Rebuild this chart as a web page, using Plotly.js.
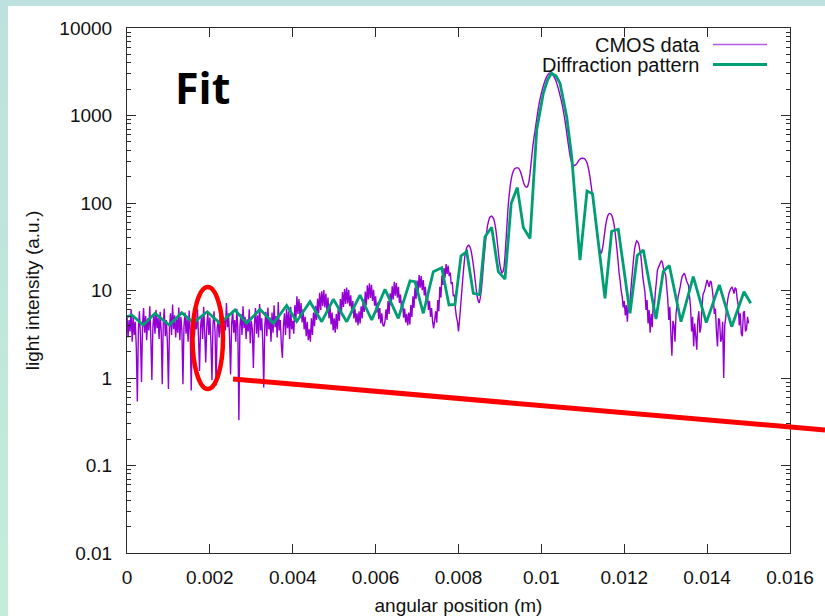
<!DOCTYPE html>
<html>
<head>
<meta charset="utf-8">
<script src="https://cdn.plot.ly/plotly-3.0.1.min.js"></script>
<style>
html, body { margin:0; padding:0; width:825px; height:616px; overflow:hidden;
  background: linear-gradient(180deg, #bde1de 0%, #c3edd8 100%); }
#sheet { position:absolute; left:8px; top:6px; width:817px; height:610px; background:#ffffff; }
#chart { position:absolute; left:0; top:0; width:825px; height:616px; }
</style>
</head>
<body>
<div id="sheet"></div>
<div id="chart"></div>
<script>
// ---- CMOS data: evenly spaced samples starting at x = 0 m, step 0.000025 m ----
const cmosStart = 0;
const cmosStep = 0.000025;
const cmosIntensity = [
  /*   0 */ 5.2, 2.9, 4.6, 3.4, 6.1, 2.6, 5.0, 3.1, 4.4, 2.2,
  /*  10 */ 0.54, 3.6, 5.8, 3.0, 0.9, 4.1, 6.3, 3.3, 5.1, 2.7,
  /*  20 */ 4.8, 3.5, 6.6, 2.9, 0.95, 3.9, 5.4, 3.2, 6.0, 3.7,
  /*  30 */ 4.9, 2.8, 5.7, 3.4, 0.85, 4.2, 6.2, 3.0, 4.6, 2.5,
  /*  40 */ 0.75, 3.8, 5.5, 3.1, 6.9, 3.6, 5.2, 2.9, 4.7, 3.3,
  /*  50 */ 6.4, 2.7, 5.0, 3.5, 0.85, 3.9, 5.6, 3.2, 4.8, 2.6,
  /*  60 */ 5.9, 3.4, 0.72, 3.7, 5.3, 2.9, 4.5, 3.6, 6.2, 3.0,
  /*  70 */ 1.2, 3.8, 5.1, 2.8, 6.5, 3.4, 1.5, 3.9, 5.6, 3.1,
  /*  80 */ 4.9, 2.6, 0.95, 4.0, 5.8, 3.3, 0.82, 3.7, 4.4, 2.9,
  /*  90 */ 6.0, 3.2, 5.3, 2.7, 4.8, 3.5, 7.2, 3.8, 5.5, 2.9,
  /* 100 */ 1.1, 4.1, 5.9, 3.3, 4.6, 2.6, 6.2, 3.6, 0.33, 3.9,
  /* 110 */ 5.4, 3.1, 6.6, 3.7, 5.0, 2.8, 4.7, 3.4, 6.1, 2.5,
  /* 120 */ 4.5, 3.6, 1.3, 4.0, 6.3, 3.2, 5.2, 2.9, 7.0, 3.5,
  /* 130 */ 4.8, 2.7, 0.78, 3.9, 5.7, 3.0, 6.4, 3.6, 4.9, 2.6,
  /* 140 */ 5.6, 3.3, 6.8, 3.8, 5.1, 2.9, 7.4, 3.5, 4.6, 2.4,
  /* 150 */ 1.7, 3.9, 5.5, 3.1, 6.2, 3.7, 5.8, 2.8, 6.5, 3.6,
  /* 160 */ 4.5, 3.2, 6.8, 4.6, 8.6, 5.4, 8.0, 5.0, 7.2, 4.3,
  /* 170 */ 6.1, 3.6, 5.0, 3.0, 4.4, 2.7, 3.6, 2.6, 4.8, 3.1,
  /* 180 */ 5.6, 3.9, 6.7, 4.6, 8.1, 5.5, 9.4, 6.0, 9.8, 6.6,
  /* 190 */ 10.1, 6.4, 9.2, 5.8, 8.3, 4.8, 6.6, 4.1, 5.6, 3.5,
  /* 200 */ 4.8, 3.3, 5.4, 3.6, 6.5, 4.5, 8.0, 5.6, 9.6, 6.5,
  /* 210 */ 10.4, 7.0, 10.8, 7.1, 10.2, 6.6, 8.8, 5.6, 7.6, 4.8,
  /* 220 */ 6.2, 4.3, 5.5, 4.0, 5.8, 4.2, 6.6, 4.8, 8.0, 5.7,
  /* 230 */ 9.7, 6.8, 11.5, 7.9, 12.1, 8.2, 11.6, 7.6, 10.2, 6.7,
  /* 240 */ 8.6, 5.6, 7.3, 4.7, 6.3, 4.2, 5.5, 4.0, 3.9, 4.4,
  /* 250 */ 6.1, 4.6, 7.6, 5.4, 9.3, 6.8, 11.2, 7.9, 12.6, 8.7,
  /* 260 */ 12.2, 8.3, 11.0, 7.2, 9.0, 6.0, 7.6, 4.9, 6.2, 4.3,
  /* 270 */ 5.4, 4.0, 5.6, 4.1, 6.8, 5.0, 8.6, 6.3, 10.8, 8.0,
  /* 280 */ 13.0, 9.6, 15.0, 10.8, 14.6, 10.1, 13.2, 8.8, 11.0, 7.3,
  /* 290 */ 9.0, 6.0, 7.6, 5.0, 6.3, 4.4, 3.7, 4.6, 5.8, 4.3,
  /* 300 */ 7.8, 5.8, 11.0, 8.3, 14.8, 11.6, 18.0, 14.0, 20.0, 15.5,
  /* 310 */ 19.2, 14.6, 16.0, 11.8, 12.5, 8.6, 9.0, 6.2, 5.0, 4.4,
  /* 320 */ 3.4, 4.6, 6.5, 9.2, 13, 18, 24, 28, 31, 32.5,
  /* 330 */ 33, 31.5, 29, 25, 21, 17, 13.5, 10.5, 8.6, 7.6,
  /* 340 */ 7.2, 8.2, 10, 13.5, 19, 26, 35, 45, 55, 62,
  /* 350 */ 68, 70, 71, 69, 66, 59, 50, 40, 31, 24,
  /* 360 */ 19.5, 17, 15.8, 16.5, 18.5, 26, 40, 62, 95, 126,
  /* 370 */ 160, 190, 215, 232, 245, 250, 252, 252, 250, 240,
  /* 380 */ 225, 205, 185, 168, 158, 153, 152, 158, 175, 215,
  /* 390 */ 280, 365, 470, 570, 680, 830, 1000, 1200, 1400, 1600,
  /* 400 */ 1800, 2000, 2200, 2400, 2600, 2760, 2900, 3000, 3060, 3050,
  /* 410 */ 3000, 2920, 2800, 2660, 2500, 2300, 2100, 1900, 1700, 1520,
  /* 420 */ 1350, 1170, 1000, 840, 700, 570, 470, 390, 330, 295,
  /* 430 */ 275, 268, 268, 272, 280, 292, 305, 315, 322, 325,
  /* 440 */ 326, 324, 318, 306, 290, 262, 230, 195, 160, 130,
  /* 450 */ 105, 85, 68, 54, 42, 35, 30, 27.5, 27, 30,
  /* 460 */ 36, 45, 55, 64, 71, 75, 76, 75, 72, 66,
  /* 470 */ 58, 48, 38, 29, 22, 16, 13, 10, 8.5, 6.4,
  /* 480 */ 7.6, 5.2, 6.8, 4.4, 7.2, 5.6, 9.0, 12.5, 17, 23,
  /* 490 */ 30, 34, 37, 36, 34, 29, 25, 19, 14, 11.5,
  /* 500 */ 9.5, 6.0, 7.8, 4.2, 6.0, 3.3, 5.4, 3.8, 7.5, 6.2,
  /* 510 */ 9.5, 12.5, 17, 18.5, 19.5, 21, 22, 20.5, 17.5, 16.2,
  /* 520 */ 15, 11, 8.0, 4.6, 6.5, 3.2, 1.8, 4.5, 4.0, 2.6,
  /* 530 */ 5.5, 6.8, 8.5, 9.6, 11, 13, 14.5, 15.2, 15.8, 14.6,
  /* 540 */ 13, 12.2, 11.5, 8.6, 6.5, 3.4, 5.0, 2.3, 4.2, 3.0,
  /* 550 */ 2.1, 4.6, 5.8, 3.3, 3.8, 6.4, 9.0, 9.6, 10.5, 11.8,
  /* 560 */ 13.2, 12.0, 11, 12.8, 12.5, 10.2, 8.0, 5.4, 6.2, 3.4,
  /* 570 */ 2.3, 4.8, 4.6, 2.6, 2.8, 4.4, 1.0, 4.0, 5.0, 6.6,
  /* 580 */ 8.0, 9.2, 10, 10.6, 11, 10.2, 9.2, 10.8, 10.4, 8.0,
  /* 590 */ 6.8, 4.0, 5.5, 3.2, 3.0, 5.6, 5.8, 3.4, 3.6, 5.0,
  /* 600 */ 4.2
];

// ---- Diffraction pattern (fit) vertices ----
const diffPosition = [
  0, 0.00012, 0.00039, 0.000676, 0.001021, 0.00132, 0.0016, 0.001938, 0.002244, 0.002606,
  0.002889, 0.00321, 0.003531, 0.003854, 0.004095, 0.004416, 0.004699, 0.004979, 0.005302, 0.005623,
  0.005905, 0.006226, 0.006547, 0.00683, 0.00695, 0.00715, 0.007392, 0.007595, 0.007771, 0.007916,
  0.00806, 0.008198, 0.008357, 0.008507, 0.00864, 0.008801, 0.008961, 0.009122, 0.009272, 0.009419,
  0.009564, 0.009726, 0.009887, 0.010047, 0.010148, 0.010244, 0.010354, 0.01045, 0.010611, 0.010732,
  0.010932, 0.011101, 0.011234, 0.011535, 0.011697, 0.011856, 0.012139, 0.012315, 0.01246, 0.012766,
  0.012942, 0.013087, 0.01337, 0.013666, 0.01398, 0.014294, 0.014593, 0.01489, 0.015052
];
const diffIntensity = [
  5.02, 5.25, 4.03, 5.49, 4.03, 5.58, 4.29, 5.72, 4.22, 5.99,
  4.22, 6.10, 4.22, 6.74, 4.42, 7.45, 4.40, 7.93, 4.40, 8.88,
  4.60, 10.3, 4.81, 12.9, 12.6, 5.49, 16.4, 18.2, 6.83, 6.92,
  24.8, 27.8, 9.29, 9.00, 41.2, 52.8, 16.4, 13.5, 99.2, 150,
  52.5, 39.3, 682, 1794, 2545, 3036, 2825, 2333, 969, 338,
  22.3, 137, 128, 8.14, 47.6, 50.1, 5.49, 25.1, 29.0, 4.72,
  16.5, 19.3, 4.40, 14.4, 4.29, 11.6, 3.86, 9.69, 7.14
];

// ---- Axis ticks ----
const xTickVals = [0, 0.002, 0.004, 0.006, 0.008, 0.01, 0.012, 0.014, 0.016];
const xTickText = ["0", "0.002", "0.004", "0.006", "0.008", "0.01", "0.012", "0.014", "0.016"];
const yTickVals = [0.01, 0.1, 1, 10, 100, 1000, 10000];
const yTickText = ["0.01", "0.1", "1", "10", "100", "1000", "10000"];

const seriesNames = ["CMOS data", "Diffraction pattern"];
const purple = "#9400d3";
const green = "#009e73";
const axisColor = "#2b2b2b";
const baseFont = '"Liberation Sans", Arial, Helvetica, sans-serif';

const traces = [
  {
    type: "scatter", mode: "lines", name: seriesNames[0],
    x0: cmosStart, dx: cmosStep, y: cmosIntensity,
    line: { color: purple, width: 1.4, simplify: false },
    hoverinfo: "skip"
  },
  {
    type: "scatter", mode: "lines", name: seriesNames[1],
    x: diffPosition, y: diffIntensity,
    line: { color: green, width: 2.8, simplify: false },
    hoverinfo: "skip"
  }
];

const layout = {
  width: 825, height: 616,
  margin: { l: 127, r: 35, t: 28, b: 63, pad: 0 },
  paper_bgcolor: "rgba(0,0,0,0)",
  plot_bgcolor: "#ffffff",
  showlegend: false,
  font: { family: baseFont, size: 19, color: "#111111" },
  xaxis: {
    range: [0, 0.016],
    tickmode: "array", tickvals: xTickVals, ticktext: xTickText,
    ticks: "inside", ticklen: 9, tickwidth: 1, tickcolor: axisColor,
    showline: true, linecolor: axisColor, linewidth: 1, mirror: "allticks",
    showgrid: false, zeroline: false,
    ticklabelstandoff: 7,
    tickfont: { family: baseFont, size: 19, color: "#111111" },
    title: { text: "angular position (m)", font: { family: baseFont, size: 19, color: "#111111" }, standoff: 12 }
  },
  yaxis: {
    type: "log", range: [-2, 4],
    tickmode: "array", tickvals: yTickVals, ticktext: yTickText,
    ticks: "inside", ticklen: 9, tickwidth: 1, tickcolor: axisColor,
    showline: true, linecolor: axisColor, linewidth: 1, mirror: "allticks",
    showgrid: false, zeroline: false,
    ticklabelstandoff: 10,
    minor: { ticks: "inside", ticklen: 4, tickwidth: 1, tickcolor: axisColor, dtick: "D1", showgrid: false },
    tickfont: { family: baseFont, size: 19, color: "#111111" },
    title: { text: "light intensity (a.u.)", font: { family: baseFont, size: 19, color: "#111111" }, standoff: 14 }
  },
  shapes: [
    { type: "circle", xref: "x", yref: "y", x0: 0.001581, x1: 0.002317, y0: 0.748, y1: 10.96,
      line: { color: "#ff0000", width: 4.5 } },
    { type: "line", xref: "paper", yref: "paper", x0: 0.1599, y0: 0.3314, x1: 1.0528, y1: 0.2343,
      line: { color: "#ff0000", width: 5 } },
    { type: "line", xref: "paper", yref: "paper", x0: 0.8839, x1: 0.9653, y0: 0.9686, y1: 0.9686,
      line: { color: "#b45be6", width: 1.3 } },
    { type: "line", xref: "paper", yref: "paper", x0: 0.8839, x1: 0.9653, y0: 0.9305, y1: 0.9305,
      line: { color: green, width: 2.8 } }
  ],
  annotations: [
    { xref: "paper", yref: "paper", x: 0.8668, y: 0.9676, xanchor: "right", yanchor: "middle",
      text: seriesNames[0], showarrow: false, font: { family: baseFont, size: 20, color: "#111111" } },
    { xref: "paper", yref: "paper", x: 0.8668, y: 0.9295, xanchor: "right", yanchor: "middle",
      text: seriesNames[1], showarrow: false, font: { family: baseFont, size: 20, color: "#111111" } },
    { xref: "paper", yref: "paper", x: 0.1146, y: 0.8876, xanchor: "center", yanchor: "middle",
      text: "<b>Fit</b>", showarrow: false, font: { family: '"Open Sans", "Noto Sans", sans-serif', size: 43, color: "#000000" } }
  ]
};

Plotly.newPlot("chart", traces, layout, { displayModeBar: false, staticPlot: true });
</script>
</body>
</html>
